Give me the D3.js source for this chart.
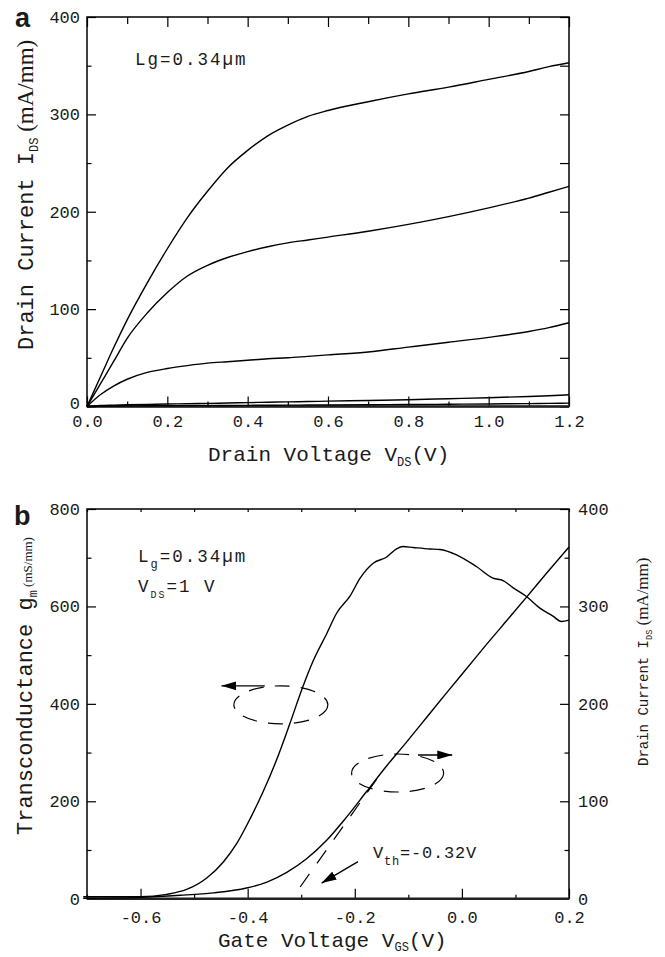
<!DOCTYPE html>
<html>
<head>
<meta charset="utf-8">
<script src="https://cdn.jsdelivr.net/npm/d3@7"></script>
<style>
  body { margin: 0; background: #fff; }
  text { font-family: "Liberation Mono", "Courier New", monospace; fill: #1a1a1a; }
</style>
</head>
<body>
<div id="svg-area"></div>
<script>
var svgWidth = 665;
var svgHeight = 957;

// ---- panel a : output characteristics (Ids vs Vds) ----
var vdsA = [0, 0.033, 0.066, 0.1, 0.15, 0.2, 0.25, 0.3, 0.35, 0.4, 0.45, 0.5, 0.55, 0.6, 0.7, 0.8, 0.9, 1.0, 1.1, 1.15, 1.2];
var idsTop = [0, 30, 60, 89, 127, 162, 194, 221, 245, 263, 278, 289, 298, 304, 313, 321, 328, 336, 344, 349, 353];
var idsSecond = [0, 23, 46, 70, 96, 117, 134, 145, 153, 159, 164, 168, 171, 174, 180, 187, 195, 204, 214, 220, 226];
var idsThird = [0, 12, 21, 28, 35, 39, 42, 44.5, 46, 47.5, 49, 50, 51.5, 53, 56, 61, 66, 71, 77, 81, 86];
var idsFourth = [0, 1, 1.4, 1.8, 2.2, 2.5, 2.9, 3.2, 3.6, 4, 4.4, 4.8, 5.1, 5.5, 6.2, 7, 8, 9, 10.3, 11, 12];
var idsFifth = [0, 0.4, 0.5, 0.6, 0.7, 0.8, 0.9, 1, 1.1, 1.2, 1.3, 1.4, 1.5, 1.6, 1.8, 2, 2.3, 2.6, 3, 3.2, 3.5];
var xTicksA = [0, 0.2, 0.4, 0.6, 0.8, 1.0, 1.2];
var xMinorA = [0.1, 0.3, 0.5, 0.7, 0.9, 1.1];
var yTicksA = [0, 100, 200, 300, 400];
var yMinorA = [50, 150, 250, 350];

// ---- panel b : transfer characteristics ----
var vgsGm = [-0.707, -0.65, -0.60, -0.551, -0.514, -0.477, -0.445, -0.420, -0.395, -0.371, -0.346, -0.321, -0.299, -0.277, -0.252, -0.234, -0.209, -0.190, -0.165, -0.141, -0.122, -0.110, -0.091, -0.060, -0.041, -0.010, 0.027, 0.058, 0.077, 0.096, 0.120, 0.145, 0.170, 0.186, 0.20];
var gmVals = [4, 4, 4, 9, 19, 42, 76, 114, 165, 220, 285, 360, 429, 490, 545, 586, 621, 658, 689, 701, 718, 723, 721, 718, 717, 706, 682, 658, 653, 638, 621, 597, 580, 569, 572];
var vgsId = [-0.707, -0.60, -0.526, -0.464, -0.402, -0.364, -0.327, -0.290, -0.2525, -0.215, -0.178, -0.141, -0.103, -0.066, -0.029, 0.0086, 0.046, 0.083, 0.120, 0.158, 0.20];
var idVals = [0.5, 1.4, 3.5, 6, 11, 17, 27, 41, 60, 84, 110, 136, 161, 186, 211, 236, 261, 285, 309, 334, 361];
var xTicksB = [-0.6, -0.4, -0.2, 0, 0.2];
var xMinorB = [-0.7, -0.5, -0.3, -0.1, 0.1];
var yTicksBL = [0, 200, 400, 600, 800];
var yMinorBL = [100, 300, 500, 700];
var yTicksBR = [0, 100, 200, 300, 400];
var yMinorBR = [50, 150, 250, 350];

// annotations (data units)
var vthTangent = [[-0.302, 12], [-0.147, 132]];
var vthArrow = [[-0.194, 38], [-0.262, 16]];
var gmEllipse = [-0.338, 398];
var idEllipse = [-0.120, 129];
var gmArrow = [[-0.368, 437], [-0.449, 437]];
var idArrow = [[-0.082, 147.5], [-0.018, 147.5]];

var svg = d3.select("#svg-area")
  .append("svg")
  .attr("width", svgWidth)
  .attr("height", svgHeight);

svg.append("defs").append("marker")
  .attr("id", "head")
  .attr("markerUnits", "userSpaceOnUse")
  .attr("markerWidth", 16).attr("markerHeight", 9)
  .attr("refX", 15).attr("refY", 4.5)
  .attr("orient", "auto")
  .append("path")
  .attr("d", "M0,0 L15,4.5 L0,9 Z")
  .attr("fill", "#000");

// Scales
var xA = d3.scaleLinear().domain([0, 1.2]).range([87, 569]);
var yA = d3.scaleLinear().domain([0, 400]).range([406.5, 17]);
var xB = d3.scaleLinear().domain([-0.7, 0.2]).range([87, 569]);
var yBL = d3.scaleLinear().domain([0, 800]).range([898.7, 509]);
var yBR = d3.scaleLinear().domain([0, 400]).range([898.7, 509]);

function addAxis(axis, values, size, fmt, pad, shift) {
  axis.tickValues(values).tickSizeInner(-size).tickSizeOuter(0).tickPadding(pad || 0)
    .tickFormat(fmt || function() { return ""; });
  var g = svg.append("g").attr("transform", shift).call(axis);
  g.select(".domain").remove();
  g.attr("font-family", "Liberation Mono").attr("font-size", 17);
  g.selectAll("line").attr("stroke", "#000").attr("stroke-width", 1.2);
  g.selectAll("text").attr("fill", "#1a1a1a");
  return g;
}

var f1 = function(d) { return d.toFixed(1); };
var f0 = function(d) { return d; };

// Step 1: panel a axes
addAxis(d3.axisBottom(xA), xTicksA, 10, f1, 8, "translate(0,406.5)");
addAxis(d3.axisBottom(xA), xMinorA, 5, null, 0, "translate(0,406.5)");
addAxis(d3.axisTop(xA), xTicksA, 10, null, 0, "translate(0,17)");
addAxis(d3.axisTop(xA), xMinorA, 7, null, 0, "translate(0,17)");
addAxis(d3.axisLeft(yA), yTicksA, 9, f0, 7, "translate(87,0)")
  .selectAll("text").attr("dy", function(d) { return d === 0 ? "0.1em" : "0.32em"; });
addAxis(d3.axisLeft(yA), yMinorA, 4.5, null, 0, "translate(87,0)");
addAxis(d3.axisRight(yA), yTicksA.concat(yMinorA), 9, null, 0, "translate(569,0)");

// Step 2: panel b axes
addAxis(d3.axisBottom(xB), xTicksB, 10, f1, 12, "translate(0,898.7)");
addAxis(d3.axisBottom(xB), xMinorB, 4, null, 0, "translate(0,898.7)");
addAxis(d3.axisTop(xB), xTicksB.concat(xMinorB), 3, null, 0, "translate(0,509)");
addAxis(d3.axisLeft(yBL), yTicksBL, 9, f0, 7, "translate(87,0)");
addAxis(d3.axisLeft(yBL), yMinorBL, 4.5, null, 0, "translate(87,0)");
addAxis(d3.axisRight(yBR), yTicksBR, 9, f0, 9, "translate(569,0)");
addAxis(d3.axisRight(yBR), yMinorBR, 4.5, null, 0, "translate(569,0)");

// frames
[[xA, yA, [0, 1.2], [0, 400]], [xB, yBL, [-0.7, 0.2], [0, 800]]].forEach(function(p) {
  var x = p[0], y = p[1];
  svg.append("rect")
    .attr("x", x(p[2][0])).attr("y", y(p[3][1]))
    .attr("width", x(p[2][1]) - x(p[2][0]))
    .attr("height", y(p[3][0]) - y(p[3][1]))
    .attr("fill", "none").attr("stroke", "#000").attr("stroke-width", 1.5);
  svg.append("line")
    .attr("x1", x(p[2][0])).attr("x2", x(p[2][1]))
    .attr("y1", y(0)).attr("y2", y(0))
    .attr("stroke", "#222").attr("stroke-width", 2.4);
});

// Step 3: curves
var lineA = d3.line().x(function(d) { return xA(d[0]); }).y(function(d) { return yA(d[1]); }).curve(d3.curveMonotoneX);
[idsTop, idsSecond, idsThird, idsFourth, idsFifth].forEach(function(s) {
  svg.append("path")
    .datum(vdsA.map(function(v, i) { return [v, s[i]]; }))
    .attr("d", lineA)
    .attr("fill", "none").attr("stroke", "#000").attr("stroke-width", 1.4);
});

var lineGm = d3.line().x(function(d) { return xB(d[0]); }).y(function(d) { return yBL(d[1]); }).curve(d3.curveMonotoneX);
var lineId = d3.line().x(function(d) { return xB(d[0]); }).y(function(d) { return yBR(d[1]); }).curve(d3.curveMonotoneX);

svg.append("path")
  .datum(vgsGm.map(function(v, i) { return [v, gmVals[i]]; }))
  .attr("d", lineGm)
  .attr("fill", "none").attr("stroke", "#000").attr("stroke-width", 1.4);

svg.append("path")
  .datum(vgsId.map(function(v, i) { return [v, idVals[i]]; }))
  .attr("d", lineId)
  .attr("fill", "none").attr("stroke", "#000").attr("stroke-width", 1.4);

// Step 4: annotations in panel b
svg.append("path")
  .datum(vthTangent)
  .attr("d", d3.line().x(function(d) { return xB(d[0]); }).y(function(d) { return yBR(d[1]); }))
  .attr("fill", "none").attr("stroke", "#000").attr("stroke-width", 1.2)
  .attr("stroke-dasharray", "16,13");

svg.append("ellipse")
  .attr("cx", xB(gmEllipse[0])).attr("cy", yBL(gmEllipse[1]))
  .attr("rx", 47).attr("ry", 19)
  .attr("fill", "none").attr("stroke", "#000").attr("stroke-width", 1.2)
  .attr("stroke-dasharray", "15,11");

svg.append("ellipse")
  .attr("cx", xB(idEllipse[0])).attr("cy", yBR(idEllipse[1]))
  .attr("rx", 46).attr("ry", 19)
  .attr("fill", "none").attr("stroke", "#000").attr("stroke-width", 1.2)
  .attr("stroke-dasharray", "15,11");

function arrow(pts, y) {
  svg.append("line")
    .attr("x1", xB(pts[0][0])).attr("y1", y(pts[0][1]))
    .attr("x2", xB(pts[1][0])).attr("y2", y(pts[1][1]))
    .attr("stroke", "#000").attr("stroke-width", 1.3)
    .attr("marker-end", "url(#head)");
}
arrow(gmArrow, yBL);
arrow(idArrow, yBR);
arrow(vthArrow, yBR);

// Step 5: texts
function label(x, y, parts, size, ls) {
  var t = svg.append("text").attr("x", x).attr("y", y)
    .attr("font-size", size).attr("letter-spacing", ls || 0);
  parts.forEach(function(p) {
    var s = t.append("tspan").text(p.t);
    if (p.sub) s.attr("font-size", p.sub).attr("dy", p.dy);
    if (p.back) s.attr("dy", p.back);
    if (p.font) s.attr("font-family", p.font).attr("font-size", p.size);
  });
  return t;
}

svg.append("text").attr("x", 15).attr("y", 27)
  .style("font-family", "Liberation Sans").attr("font-weight", "bold").attr("font-size", 27).text("a");
svg.append("text").attr("x", 14).attr("y", 525)
  .style("font-family", "Liberation Sans").attr("font-weight", "bold").attr("font-size", 27).text("b");

label(135, 65, [{t: "Lg=0.34\u00b5m"}], 17.5, 2);
label(138, 562, [{t: "L"}, {t: "g", sub: 12, dy: 6}, {t: "=0.34\u00b5m", back: -6}], 17.5, 2);
label(138, 592, [{t: "V"}, {t: "DS", sub: 10, dy: 6}, {t: "=1 V", back: -6}], 17.5, 2);
label(373, 858, [{t: "V"}, {t: "th", sub: 12, dy: 7}, {t: "=-0.32V", back: -7}], 17, 0.8);

// axis titles
label(208, 461, [{t: "Drain Voltage V"}, {t: "DS", sub: 12, dy: 5}, {t: "(V)", back: -5}], 21, 0);
label(218, 947, [{t: "Gate Voltage V"}, {t: "GS", sub: 12, dy: 4}, {t: "(V)", back: -4}], 21, 0);

label(0, 0, [{t: "Drain Current I"}, {t: "DS", sub: 12, dy: 5}, {t: " (mA/mm)", back: -5, font: "Liberation Serif", size: 23}], 22, 0)
  .attr("transform", "translate(33,350) rotate(-90)");
label(0, 0, [{t: "Transconductance g"}, {t: "m", sub: 12, dy: 5}, {t: " (mS/mm)", back: -5, font: "Liberation Serif", size: 13}], 22, 0)
  .attr("transform", "translate(32,835) rotate(-90)");
label(0, 0, [{t: "Drain Current I"}, {t: "DS", sub: 8.5, dy: 4}, {t: " (mA/mm)", back: -4, font: "Liberation Serif", size: 17}], 14, 0)
  .attr("transform", "translate(648,766) rotate(-90)");
</script>
</body>
</html>
